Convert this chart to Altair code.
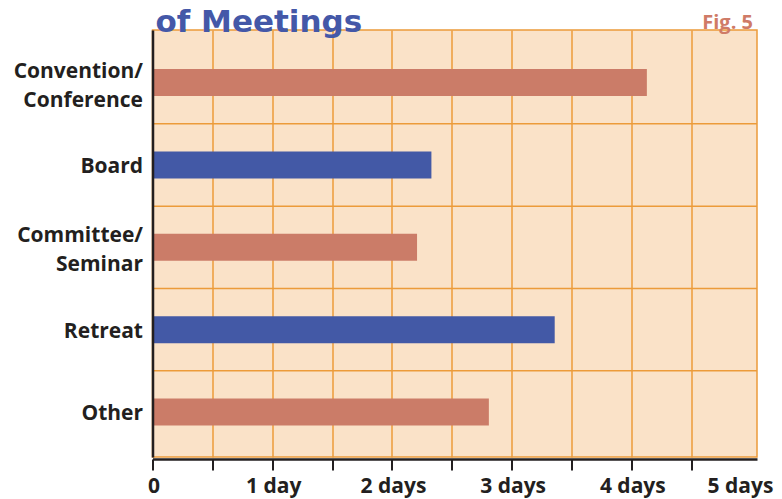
import json
import altair as alt
import pandas as pd

# ---- data ----
categories = ["Convention/ Conference", "Board", "Committee/ Seminar", "Retreat", "Other"]
days = [4.13, 2.33, 2.21, 3.36, 2.81]
bar_colors = ["#CB7C68", "#4359A6", "#CB7C68", "#4359A6", "#CB7C68"]
x_tick_values = [0, 0.5, 1, 1.5, 2, 2.5, 3, 3.5, 4, 4.5, 5]
x_tick_labels = ["0", "1 day", "2 days", "3 days", "4 days", "5 days"]
title_text = ["of Meetings"]
fig_text = ["Fig. 5"]

# ---- styles ----
ORANGE = "#EC9B3A"
INK = "#231F20"
BG = "#FAE2C8"
FONT = "Open Sans"

df = pd.DataFrame({"category": categories, "days": days})
sep_df = pd.DataFrame({"category": categories[1:]})

label_expr = f"datum.value % 1 == 0 ? {json.dumps(x_tick_labels)}[datum.value] : ''"

xscale = alt.Scale(domain=[0, 5.05], nice=False, zero=True)
yscale = alt.Scale(domain=categories, paddingInner=0, paddingOuter=0.0926, align=0.75)

x_axis = alt.Axis(
    values=x_tick_values,
    labelExpr=label_expr,
    title=None,
    domainColor=INK,
    domainWidth=2.5,
    offset=2,
    tickColor={"condition": {"test": "datum.value == 5", "value": "transparent"}, "value": INK},
    tickWidth=2,
    tickSize=11,
    grid=True,
    gridColor={"condition": {"test": "datum.value == 5 || datum.value == 0", "value": "transparent"}, "value": ORANGE},
    gridWidth=1.5,
    labelFont=FONT,
    labelFontWeight="bold",
    labelFontSize=21,
    labelColor=INK,
    labelPadding=5,
    labelOffset={"condition": {"test": "datum.value == 5", "value": -11}, "value": 1},
    labelFlush=False,
    labelOverlap=False,
    labelBound=False,
)

y_axis = alt.Axis(
    title=None,
    domainColor=INK,
    domainWidth=2.5,
    ticks=False,
    tickSize=0,
    grid=False,
    labelFont=FONT,
    labelFontWeight="bold",
    labelFontSize=21,
    labelColor=INK,
    labelPadding=10,
    labelAlign="right",
    labelBaseline="middle",
    labelExpr="split(datum.label, ' ')",
    labelLineHeight=29,
    labelLimit=250,
    labelOffset={"condition": {"test": "indexof(datum.label, '/') >= 0", "value": -11}, "value": 2},
    zindex=1,
)

separators = alt.Chart(sep_df).mark_rule(color=ORANGE, strokeWidth=1.5).encode(
    y=alt.Y("category:N", bandPosition=0, scale=yscale, sort=categories, axis=y_axis)
)

bars = alt.Chart(df).mark_bar(size=27).encode(
    x=alt.X("days:Q", scale=xscale, axis=x_axis),
    y=alt.Y("category:N", scale=yscale, sort=categories, axis=y_axis),
    color=alt.Color("category:N", scale=alt.Scale(domain=categories, range=bar_colors), legend=None),
)

title = alt.Chart(pd.DataFrame({"t": title_text})).mark_text(
    font="DejaVu Sans", fontWeight="bold", fontSize=31, color="#4458A8",
    align="left", baseline="alphabetic",
).encode(text="t:N", x=alt.value(3), y=alt.value(2))

fig = alt.Chart(pd.DataFrame({"t": fig_text})).mark_text(
    font=FONT, fontWeight="bold", fontSize=20, color="#CF7B67",
    align="right", baseline="alphabetic",
).encode(text="t:N", x=alt.value(600.5), y=alt.value(-1))

chart = alt.layer(separators, bars, title, fig).properties(
    width=604.5,
    height=427,
    padding={"left": 144.5, "top": 22, "right": 17, "bottom": 42},
    autosize=alt.AutoSizeParams(type="none"),
    background="white",
).configure_view(fill=BG, stroke=ORANGE, strokeWidth=1.5)

chart.save("out.html", embed_options={"renderer": "svg", "actions": False})
